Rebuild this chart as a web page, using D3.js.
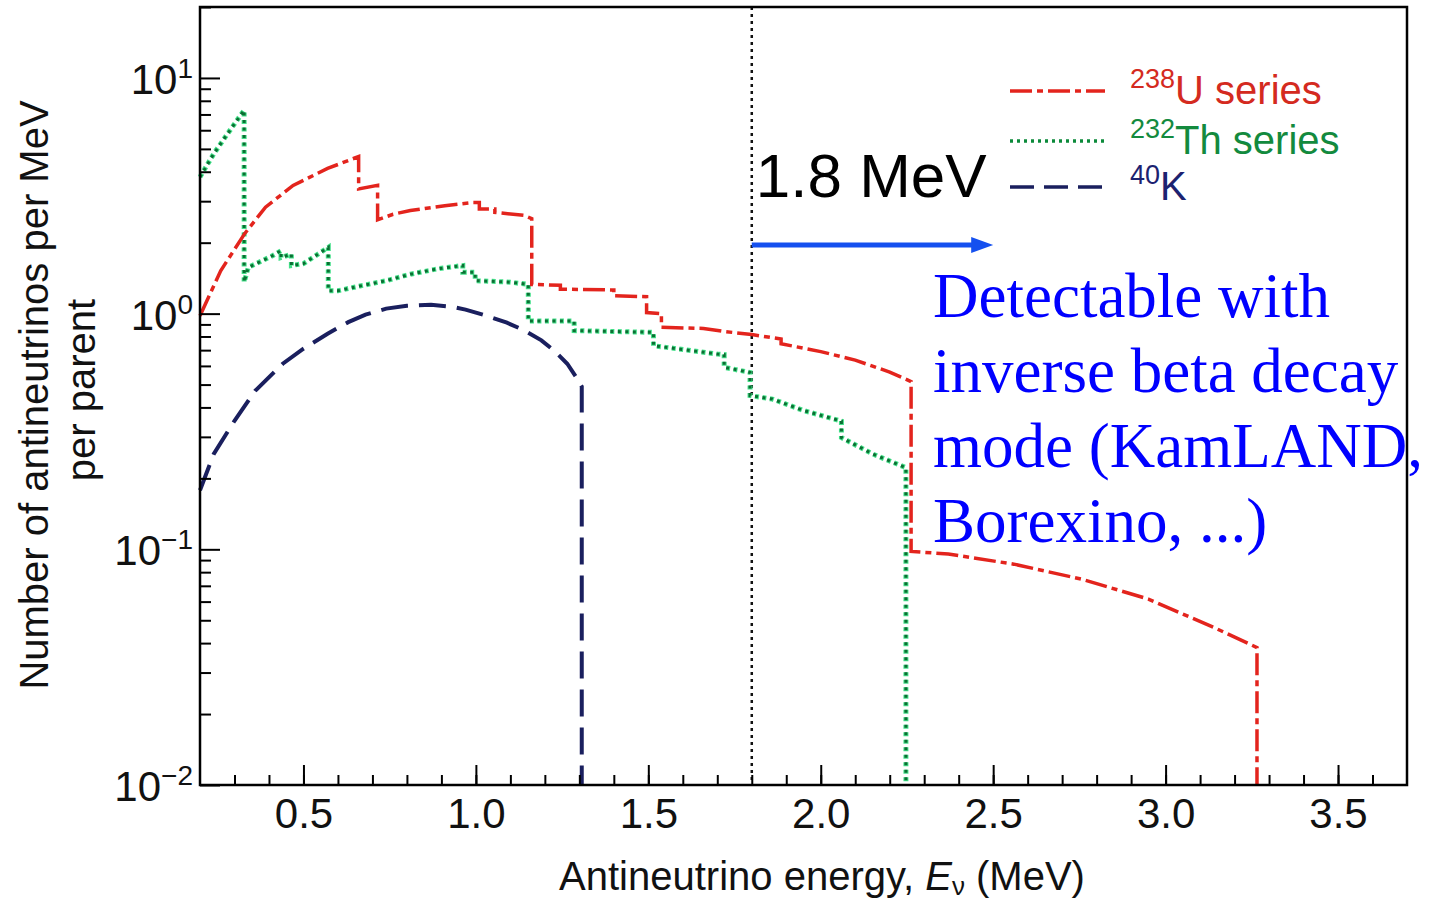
<!DOCTYPE html>
<meta charset="utf-8">
<style>
  body { margin: 0; background: #fff; }
  svg { display: block; }
  text { font-family: "Liberation Sans", Arial, sans-serif; }
  .axis path { display: none; }
  .axis line { stroke: #000; stroke-width: 2; }
  .note { font-family: "Liberation Serif", "Times New Roman", serif; fill: #0000ff; font-size: 63px; }
</style>
<body>
<script src="https://d3js.org/d3.v7.min.js"></script>
<script>
// 238U series (dash-dot, red)
var uEnergy = [0.2, 0.26, 0.33, 0.39, 0.47, 0.57, 0.66, 0.66, 0.715, 0.715, 0.76, 0.81, 0.91, 0.99,
  1.01, 1.01, 1.055, 1.055, 1.14, 1.162, 1.162, 1.245, 1.245, 1.40, 1.40, 1.495, 1.495, 1.538, 1.538,
  1.66, 1.72, 1.80, 1.885, 1.885, 2.0, 2.1, 2.2, 2.262, 2.262, 2.37, 2.56, 2.76, 2.95, 3.14, 3.265, 3.265];
var uValue = [0.98, 1.52, 2.19, 2.83, 3.5, 4.13, 4.64, 3.38, 3.5, 2.5, 2.64, 2.74, 2.87, 2.96,
  2.96, 2.78, 2.78, 2.69, 2.61, 2.53, 1.33, 1.32, 1.27, 1.26, 1.19, 1.18, 1.01, 1.0, 0.875,
  0.865, 0.84, 0.815, 0.78, 0.745, 0.69, 0.635, 0.565, 0.515, 0.098, 0.0955, 0.0865, 0.0745, 0.0615, 0.0466, 0.0383, 0.01];

// 232Th series (dotted, green)
var thEnergy = [0.2, 0.24, 0.28, 0.328, 0.328, 0.34, 0.41, 0.435, 0.435, 0.465, 0.465, 0.5, 0.572, 0.572,
  0.6, 0.664, 0.74, 0.81, 0.89, 0.962, 0.962, 0.998, 0.998, 1.10, 1.152, 1.152, 1.285, 1.285, 1.515, 1.515,
  1.70, 1.72, 1.72, 1.795, 1.795, 1.86, 1.95, 2.06, 2.06, 2.15, 2.247, 2.247];
var thValue = [3.8, 4.77, 5.8, 7.3, 1.36, 1.57, 1.76, 1.85, 1.73, 1.79, 1.6, 1.63, 1.91, 1.25,
  1.25, 1.31, 1.38, 1.47, 1.55, 1.6, 1.5, 1.5, 1.38, 1.36, 1.33, 0.93, 0.93, 0.847, 0.833, 0.731,
  0.674, 0.67, 0.592, 0.563, 0.449, 0.434, 0.388, 0.35, 0.298, 0.254, 0.222, 0.01];

// 40K (dashed, navy)
var kEnergy = [0.2, 0.24, 0.30, 0.36, 0.44, 0.5, 0.57, 0.63, 0.68, 0.74, 0.80, 0.87, 0.93, 0.97,
  1.03, 1.09, 1.14, 1.19, 1.23, 1.265, 1.29, 1.307, 1.307];
var kValue = [0.178, 0.254, 0.351, 0.47, 0.613, 0.71, 0.822, 0.92, 0.99, 1.05, 1.08, 1.09, 1.07, 1.04,
  0.98, 0.915, 0.85, 0.77, 0.69, 0.613, 0.54, 0.49, 0.01];

var xTicks = [0.5, 1.0, 1.5, 2.0, 2.5, 3.0, 3.5];
var yTicks = [0.01, 0.1, 1, 10];
var yTickExp = ["\u22122", "\u22121", "0", "1"];
var threshold = 1.8;
var noteLines = ["Detectable with", "inverse beta decay", "mode (KamLAND,", "Borexino, ...)"];

var W = 1435, H = 905;
var margin = {top: 7, right: 28, bottom: 120, left: 200};

var svg = d3.select("body").append("svg").attr("width", W).attr("height", H);

var x = d3.scaleLinear().domain([0.2, 3.7]).range([margin.left, W - margin.right]);
var y = d3.scaleLog().domain([0.01, 20]).range([H - margin.bottom, margin.top]);

var line = d3.line().x(function(d) { return x(d[0]); }).y(function(d) { return y(d[1]); });

function pairs(e, v) { return e.map(function(d, i) { return [d, v[i]]; }); }

// threshold line
svg.append("line")
  .attr("x1", x(threshold)).attr("x2", x(threshold))
  .attr("y1", y.range()[1]).attr("y2", y.range()[0])
  .style("stroke", "#111").style("stroke-width", 2.5).style("stroke-dasharray", "3,4");

// curves
svg.append("path").datum(pairs(kEnergy, kValue)).attr("d", line)
  .style("fill", "none").style("stroke", "#1a1f5e").style("stroke-width", 4)
  .style("stroke-dasharray", "27,11");

svg.append("path").datum(pairs(thEnergy, thValue)).attr("d", line)
  .style("fill", "none").style("stroke", "#45e08a").style("stroke-width", 5)
  .style("stroke-dasharray", "4,3.5");
svg.append("path").datum(pairs(thEnergy, thValue)).attr("d", line)
  .style("fill", "none").style("stroke", "#0b6f33").style("stroke-width", 3)
  .style("stroke-dasharray", "3,4.5");

svg.append("path").datum(pairs(uEnergy, uValue)).attr("d", line)
  .style("fill", "none").style("stroke", "#e3241d").style("stroke-width", 3.5)
  .style("stroke-dasharray", "22,5,6,5");

// frame
svg.append("rect")
  .attr("x", x.range()[0]).attr("y", y.range()[1])
  .attr("width", x.range()[1] - x.range()[0]).attr("height", y.range()[0] - y.range()[1])
  .style("fill", "none").style("stroke", "#000").style("stroke-width", 2.5);

// x axis
var xMinor = d3.range(3, 37).map(function(d) { return d / 10; });
svg.append("g").attr("class", "axis").attr("transform", "translate(0," + y.range()[0] + ")")
  .call(d3.axisBottom(x).tickValues(xMinor).tickSize(-10).tickFormat(""));
var xAxis = svg.append("g").attr("class", "axis").attr("transform", "translate(0," + y.range()[0] + ")")
  .call(d3.axisBottom(x).tickValues(xTicks).tickSize(-20).tickPadding(13).tickFormat(d3.format(".1f")));
xAxis.selectAll("text").style("font-size", "42px").style("font-family", "Liberation Sans, Arial, sans-serif").attr("fill", "#111");

// y axis
var yMinor = [];
[0.01, 0.1, 1, 10].forEach(function(dec) {
  for (var m = 2; m <= 9; m++) { if (dec * m <= 20) yMinor.push(dec * m); }
});
svg.append("g").attr("class", "axis").attr("transform", "translate(" + x.range()[0] + ",0)")
  .call(d3.axisLeft(y).tickValues(yMinor).tickSize(-11).tickFormat(""));
svg.append("g").attr("class", "axis").attr("transform", "translate(" + x.range()[0] + ",0)")
  .call(d3.axisLeft(y).tickValues(yTicks).tickSize(-20).tickFormat(""));

var yLab = svg.append("g").selectAll("text").data(yTicks).enter().append("text")
  .attr("x", x.range()[0] - 7)
  .attr("y", function(d) { return y(d) + 16; })
  .attr("text-anchor", "end")
  .style("font-size", "42px").attr("fill", "#111");
yLab.append("tspan").text("10");
yLab.append("tspan").attr("dy", -16).style("font-size", "28px")
  .text(function(d, i) { return yTickExp[i]; });

// axis titles
var xt = svg.append("text").attr("x", 822).attr("y", 890).attr("text-anchor", "middle")
  .style("font-size", "40px").attr("fill", "#111");
xt.append("tspan").text("Antineutrino energy, ");
xt.append("tspan").style("font-style", "italic").text("E");
xt.append("tspan").attr("dy", 5).style("font-size", "26px").text("\u03bd");
xt.append("tspan").attr("dy", -5).text(" (MeV)");

svg.append("text").attr("transform", "translate(48,395) rotate(-90)").attr("text-anchor", "middle")
  .style("font-size", "40px").attr("fill", "#111").text("Number of antineutrinos per MeV");
svg.append("text").attr("transform", "translate(95,390) rotate(-90)").attr("text-anchor", "middle")
  .style("font-size", "40px").attr("fill", "#111").text("per parent");

// legend
var legend = [
  {sup: "238", name: "U series", color: "#e3241d", text: "#d42a20", dash: "22,5,6,5", y: 91},
  {sup: "232", name: "Th series", color: "#0b8a3a", text: "#138a3e", dash: "3,4", y: 141},
  {sup: "40", name: "K", color: "#1a1f5e", text: "#1c2270", dash: "24,10", y: 187}
];
var lg = svg.append("g").selectAll("g").data(legend).enter().append("g");
lg.append("line").attr("x1", 1010).attr("x2", 1105)
  .attr("y1", function(d) { return d.y; }).attr("y2", function(d) { return d.y; })
  .style("stroke", function(d) { return d.color; }).style("stroke-width", 3.5)
  .style("stroke-dasharray", function(d) { return d.dash; });
var lt = lg.append("text").attr("x", 1130).attr("y", function(d) { return d.y + 13; })
  .attr("fill", function(d) { return d.text; }).style("font-size", "40px");
lt.append("tspan").attr("dy", -16).style("font-size", "27px").text(function(d) { return d.sup; });
lt.append("tspan").attr("dy", 16).text(function(d) { return d.name; });

// annotation
svg.append("text").attr("x", x(threshold) + 4).attr("y", 197)
  .style("font-size", "62px").attr("fill", "#000").text("1.8 MeV");

svg.append("line").attr("x1", x(threshold)).attr("x2", x(2.5) - 18).attr("y1", 245).attr("y2", 245)
  .style("stroke", "#1550ef").style("stroke-width", 5);
svg.append("path")
  .attr("d", "M" + x(2.5) + ",245 L" + (x(2.5) - 22) + ",237 L" + (x(2.5) - 22) + ",253 Z")
  .style("fill", "#1550ef");

svg.append("g").selectAll("text").data(noteLines).enter().append("text")
  .attr("class", "note").attr("x", 933)
  .attr("y", function(d, i) { return 317 + i * 75; })
  .text(function(d) { return d; });
</script>
</body>
</html>
